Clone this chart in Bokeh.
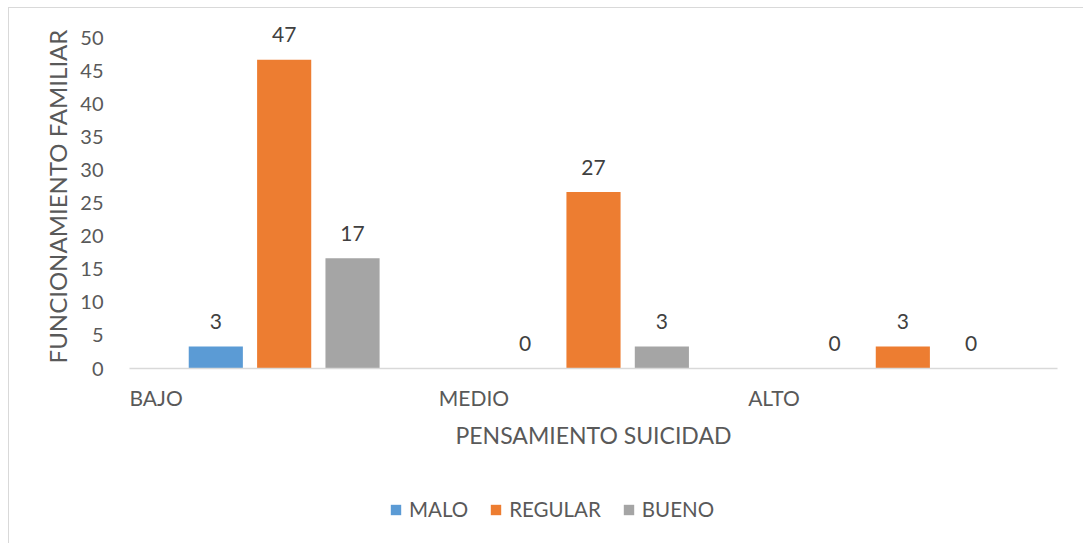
import numpy as np
from bokeh.plotting import figure
from bokeh.layouts import column
from bokeh.models import (Range1d, FixedTicker, LinearAxis, Legend, LegendItem,
                          ColumnDataSource)
from bokeh.core.properties import value
from bokeh.embed import file_html
from bokeh.resources import INLINE

# ---- data ----
categories = ["BAJO", "MEDIO", "ALTO"]
series = ["MALO", "REGULAR", "BUENO"]
malo = [3.33, 0.0, 0.0]
regular = [46.67, 26.67, 3.33]
bueno = [16.67, 3.33, 0.0]
y_ticks = [0, 5, 10, 15, 20, 25, 30, 35, 40, 45, 50]

colors = ["#5B9BD5", "#ED7D31", "#A5A5A5"]
offsets = [-0.221, 0.0, 0.221]
FONT = "Lato"

p = figure(width=1074, height=475, output_backend="svg", toolbar_location=None,
           x_range=Range1d(0, 3), y_range=Range1d(0, 52),
           x_axis_type=None, y_axis_type=None,
           min_border_left=120, min_border_right=26, min_border_top=16,
           min_border_bottom=115)
p.outline_line_color = None
p.background_fill_color = "white"
p.border_fill_color = "white"

# y axis
yax = LinearAxis(ticker=FixedTicker(ticks=y_ticks))
yax.axis_line_color = None
yax.major_tick_line_color = None
yax.minor_tick_line_color = None
yax.major_tick_out = 0
yax.major_label_standoff = 26
yax.major_label_text_font = FONT
yax.major_label_text_font_size = "20px"
yax.major_label_text_color = "#595959"
yax.axis_label = "FUNCIONAMIENTO FAMILIAR"
yax.axis_label_text_font = FONT
yax.axis_label_text_font_size = "24px"
yax.axis_label_text_font_style = "normal"
yax.axis_label_text_color = "#595959"
yax.axis_label_standoff = 5
p.add_layout(yax, "left")

# x axis (category names start at the left edge of each category)
xax = LinearAxis(ticker=FixedTicker(ticks=[0, 1, 2]))
xax.major_label_overrides = {i: c for i, c in enumerate(categories)}
xax.major_label_orientation = -0.0001
xax.axis_line_color = "#D9D9D9"
xax.axis_line_width = 1.5
xax.major_tick_line_color = None
xax.minor_tick_line_color = None
xax.major_tick_out = 0
xax.major_label_standoff = 29
xax.major_label_text_font = FONT
xax.major_label_text_font_size = "21px"
xax.major_label_text_color = "#595959"
xax.axis_label = "PENSAMIENTO SUICIDAD"
xax.axis_label_text_font = FONT
xax.axis_label_text_font_size = "23px"
xax.axis_label_text_font_style = "normal"
xax.axis_label_text_color = "#595959"
xax.axis_label_standoff = -5
p.add_layout(xax, "below")

# grid
p.ygrid.ticker = FixedTicker(ticks=y_ticks)
p.ygrid.grid_line_color = "#D9D9D9"
p.ygrid.grid_line_width = 1.5
p.xgrid.grid_line_color = None

# legend strip below the chart
lg = figure(width=1074, height=60, output_backend="svg", toolbar_location=None,
            x_range=Range1d(0, 3), y_range=Range1d(0, 52),
            x_axis_type=None, y_axis_type=None,
            min_border_left=0, min_border_right=0, min_border_top=0,
            min_border_bottom=0)
lg.outline_line_color = None
lg.xgrid.grid_line_color = None
lg.ygrid.grid_line_color = None

base = np.arange(len(categories)) + 0.5
items = []
for name, vals, col, off in zip(series, [malo, regular, bueno], colors, offsets):
    src = ColumnDataSource(dict(x=base + off, top=vals,
                                lbl=[str(int(round(v))) for v in vals]))
    p.vbar(x="x", top="top", width=0.175, source=src, fill_color=col,
           line_color=None)
    p.text(x="x", y="top", text="lbl", source=src, text_align="center",
           text_baseline="alphabetic", y_offset=-25,
           text_font=value(FONT), text_font_size="21px", text_color="#404040")
    r = lg.vbar(x="x", top="top", width=0.175, source=src, fill_color=col,
                line_color=None, visible=False)
    items.append(LegendItem(label=name, renderers=[r]))

legend = Legend(items=items, orientation="horizontal", location=(260, 22),
                border_line_color=None, background_fill_alpha=0,
                padding=0, margin=0, spacing=21, label_standoff=7,
                glyph_width=13, glyph_height=13,
                label_text_font=FONT, label_text_font_size="20.5px",
                label_text_color="#595959")
lg.add_layout(legend, "center")

layout = column(p, lg, spacing=0,
                styles={"margin-left": "8px", "margin-top": "7px",
                        "border-left": "1px solid #D9D9D9",
                        "border-top": "1px solid #D9D9D9"})

open("out.html", "w").write(file_html(layout, INLINE))
